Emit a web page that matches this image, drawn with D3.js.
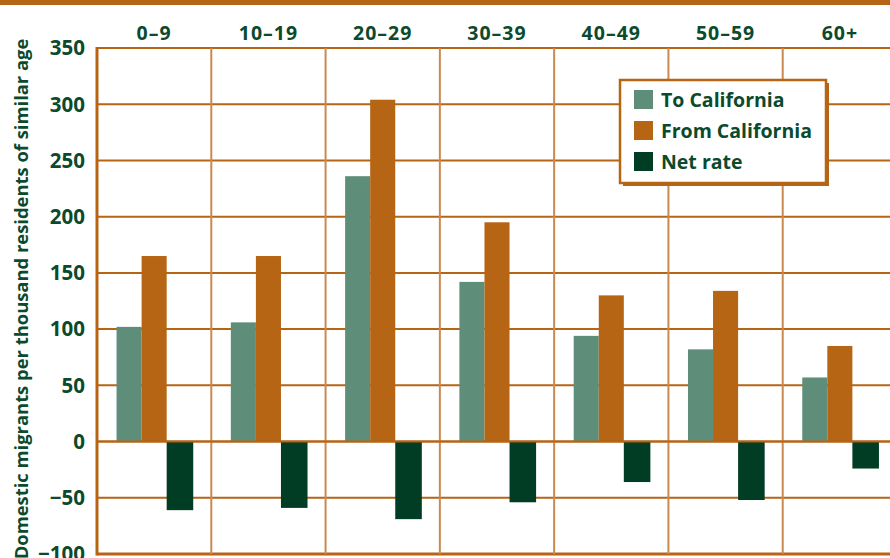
<!DOCTYPE html>
<html>
<head>
<meta charset="utf-8">
<title>Domestic migration by age</title>
<script src="https://d3js.org/d3.v7.min.js"></script>
<style>
  body { margin: 0; background: #fff; }
  text { font-family: "Open Sans", "DejaVu Sans", sans-serif; font-weight: 700; fill: #0b4a2c; }
</style>
</head>
<body>
<div id="chart"></div>
<script>
const ageGroups = ["0–9", "10–19", "20–29", "30–39", "40–49", "50–59", "60+"];
const seriesNames = ["To California", "From California", "Net rate"];
const toCalifornia = [102, 106, 236, 142, 94, 82, 57];
const fromCalifornia = [165, 165, 304, 195, 130, 134, 85];
const netRate = [-61, -59, -69, -54, -36, -52, -24];
const yTicks = [350, 300, 250, 200, 150, 100, 50, 0, -50, -100];
const yLabel = "Domestic migrants per thousand residents of similar age";

const width = 890, height = 558;
const margin = { top: 48, right: -7, bottom: 4, left: 97 };
const orange = "#b56514", teal = "#5e8d7a", dark = "#003d24";
const colors = [teal, orange, dark];

const svg = d3.select("#chart").append("svg")
    .attr("width", width)
    .attr("height", height);

// top band
svg.append("rect")
    .attr("x", 0).attr("y", 0)
    .attr("width", width).attr("height", 5)
    .attr("fill", orange);

const x = d3.scaleBand()
    .domain(ageGroups)
    .range([margin.left, width - margin.right])
    .padding(0);

const xInner = d3.scaleBand()
    .domain(seriesNames)
    .range([0, x.bandwidth()])
    .paddingInner(0)
    .paddingOuter(0.78);

const y = d3.scaleLinear()
    .domain([-100, 350])
    .range([height - margin.bottom, margin.top]);

const rows = ageGroups.map((g, i) => ({
  group: g,
  values: [toCalifornia[i], fromCalifornia[i], netRate[i]]
}));

// horizontal grid
svg.append("g")
  .selectAll("line")
  .data(yTicks)
  .join("line")
    .attr("x1", margin.left)
    .attr("x2", width)
    .attr("y1", d => y(d))
    .attr("y2", d => y(d))
    .attr("stroke", orange)
    .attr("stroke-width", d => (d === -100 ? 3 : 2));

// vertical grid
svg.append("g")
  .selectAll("line")
  .data(ageGroups.slice(1))
  .join("line")
    .attr("x1", d => x(d))
    .attr("x2", d => x(d))
    .attr("y1", y(350))
    .attr("y2", y(-100))
    .attr("stroke", "#c98a4f")
    .attr("stroke-width", 2);

// bars
svg.append("g")
  .selectAll("g")
  .data(rows)
  .join("g")
    .attr("transform", d => `translate(${x(d.group)},0)`)
  .selectAll("rect")
  .data(d => d.values.map((v, j) => ({ key: seriesNames[j], value: v, j: j })))
  .join("rect")
    .attr("x", d => xInner(d.key))
    .attr("width", d => xInner.bandwidth() + (d.j === 2 ? 1.5 : 0))
    .attr("y", d => y(Math.max(0, d.value)))
    .attr("height", d => Math.abs(y(d.value) - y(0)))
    .attr("fill", d => colors[d.j]);

// zero line over bars
svg.append("line")
    .attr("x1", margin.left).attr("x2", width)
    .attr("y1", y(0)).attr("y2", y(0))
    .attr("stroke", orange).attr("stroke-width", 2);

// left axis line
svg.append("line")
    .attr("x1", margin.left).attr("x2", margin.left)
    .attr("y1", y(350) - 1).attr("y2", y(-100) + 1.5)
    .attr("stroke", orange).attr("stroke-width", 3);

// y tick labels
svg.append("g")
  .selectAll("text")
  .data(yTicks)
  .join("text")
    .attr("x", margin.left - 12)
    .attr("y", d => y(d))
    .attr("dy", "0.36em")
    .attr("text-anchor", "end")
    .style("font-size", "20.5px")
    .text(d => (d < 0 ? "−" + Math.abs(d) : d));

// category labels
svg.append("g")
  .selectAll("text")
  .data(ageGroups)
  .join("text")
    .attr("x", d => x(d) + x.bandwidth() / 2)
    .attr("y", 40)
    .attr("text-anchor", "middle")
    .style("font-size", "19.5px")
    .style("letter-spacing", "1px")
    .text(d => d);

// y axis title
svg.append("text")
    .attr("transform", "translate(28, 299)rotate(-90)")
    .attr("text-anchor", "middle")
    .style("font-size", "18.4px")
    .text(yLabel);

// legend
const legend = svg.append("g").attr("transform", "translate(620,80)");
legend.append("rect")
    .attr("x", 3).attr("y", 3)
    .attr("width", 206).attr("height", 103)
    .attr("fill", orange);
legend.append("rect")
    .attr("x", 0).attr("y", 0)
    .attr("width", 206).attr("height", 103)
    .attr("fill", "#fff")
    .attr("stroke", orange)
    .attr("stroke-width", 2.5);

const items = legend.selectAll("g.item")
  .data(seriesNames)
  .join("g")
    .attr("class", "item")
    .attr("transform", (d, i) => `translate(14, ${10 + i * 31})`);
items.append("rect")
    .attr("width", 19).attr("height", 19)
    .attr("fill", (d, i) => colors[i]);
items.append("text")
    .attr("x", 27)
    .attr("y", 10)
    .attr("dy", "0.36em")
    .style("font-size", "19.5px")
    .text(d => d);
</script>
</body>
</html>
